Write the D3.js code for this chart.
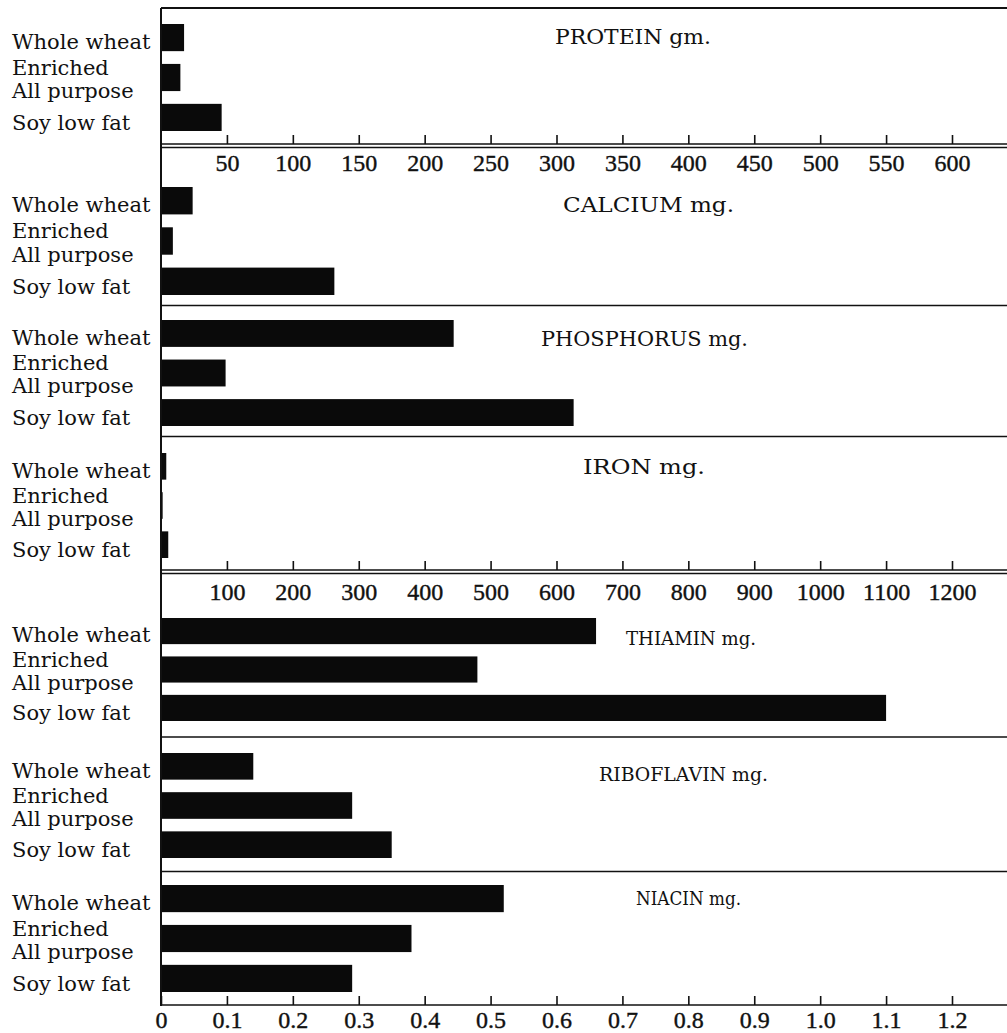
<!DOCTYPE html>
<html>
<head>
<meta charset="utf-8">
<script src="https://cdn.jsdelivr.net/npm/d3@7"></script>
<style>
  html, body { margin: 0; padding: 0; background: #fff; }
  svg { display: block; }
</style>
</head>
<body>
<script>
// ---------------- DATA ----------------
const categories = ["Whole wheat", "Enriched All purpose", "Soy low fat"];
const labelLines = [["Whole wheat"], ["Enriched", "All purpose"], ["Soy low fat"]];

const protein    = [17.5, 14.7, 46];     // gm.
const calcium    = [48, 18, 263];        // mg.
const phosphorus = [444, 98, 626];       // mg.
const iron       = [8, 2.5, 11];         // mg.
const thiamin    = [0.66, 0.48, 1.10];   // mg.
const riboflavin = [0.14, 0.29, 0.35];   // mg.
const niacin     = [0.52, 0.38, 0.29];   // mg.

const proteinTicks = [50,100,150,200,250,300,350,400,450,500,550,600];
const mineralTicks = [100,200,300,400,500,600,700,800,900,1000,1100,1200];
const vitaminTicks = [0,0.1,0.2,0.3,0.4,0.5,0.6,0.7,0.8,0.9,1.0,1.1,1.2];

// ---------------- LAYOUT ----------------
const W = 1007, H = 1033;
const X0 = 161, X1 = 952, XR = 1007;

const svg = d3.select("body").append("svg").attr("width", W).attr("height", H);

const xP = d3.scaleLinear().domain([0, 600]).range([X0, X1]);
const xM = d3.scaleLinear().domain([0, 1200]).range([X0, X1]);
const xV = d3.scaleLinear().domain([0, 1.2]).range([X0, X1]);

const panels = [
  {title: "PROTEIN gm.",    values: protein,    x: xP, top: 24,  bottom: 131, tx: 555, ty: 44,  tw: 156, fs: 20},
  {title: "CALCIUM mg.",    values: calcium,    x: xM, top: 187, bottom: 295, tx: 563, ty: 212, tw: 171, fs: 20},
  {title: "PHOSPHORUS mg.", values: phosphorus, x: xM, top: 320, bottom: 426, tx: 541, ty: 346, tw: 207, fs: 20},
  {title: "IRON mg.",       values: iron,       x: xM, top: 453, bottom: 558, tx: 583, ty: 474, tw: 122, fs: 20},
  {title: "THIAMIN mg.",    values: thiamin,    x: xV, top: 618, bottom: 721, tx: 626, ty: 645, tw: 130, fs: 19},
  {title: "RIBOFLAVIN mg.", values: riboflavin, x: xV, top: 753, bottom: 858, tx: 599, ty: 781, tw: 169, fs: 19},
  {title: "NIACIN mg.",     values: niacin,     x: xV, top: 885, bottom: 992, tx: 636, ty: 905, tw: 105, fs: 18}
];

const labelFont = "'DejaVu Serif', serif";
const tickFont = "'Liberation Serif', 'Times New Roman', serif";

panels.forEach(p => {
  const y = d3.scaleBand().domain(categories).range([p.top, p.bottom]).paddingInner(0.32).paddingOuter(0);
  const g = svg.append("g");
  g.selectAll("rect").data(categories).join("rect")
    .attr("x", p.x(0))
    .attr("y", d => y(d))
    .attr("width", (d, i) => p.x(p.values[i]) - p.x(0))
    .attr("height", y.bandwidth())
    .attr("fill", "#0a0a0a");

  // category labels
  const bw = y.bandwidth();
  const lab = [
    {t: labelLines[0][0], yy: y(categories[0]) + bw - 2},
    {t: labelLines[1][0], yy: y(categories[1]) + bw * 0.4},
    {t: labelLines[1][1], yy: y(categories[1]) + bw + 7},
    {t: labelLines[2][0], yy: y(categories[2]) + bw - 1}
  ];
  g.selectAll("text.cat").data(lab).join("text")
    .attr("class", "cat")
    .attr("x", 12).attr("y", d => d.yy)
    .attr("font-family", labelFont).attr("font-size", 21)
    .attr("fill", "#111")
    .text(d => d.t);

  g.append("text")
    .attr("x", p.tx).attr("y", p.ty)
    .attr("font-family", labelFont).attr("font-size", p.fs)
    .attr("textLength", p.tw).attr("lengthAdjust", "spacingAndGlyphs")
    .attr("fill", "#111")
    .text(p.title);
});

// ---------------- FRAME LINES ----------------
const line = (x1, y1, x2, y2, w) => svg.append("line")
  .attr("x1", x1).attr("y1", y1).attr("x2", x2).attr("y2", y2)
  .attr("stroke", "#111").attr("stroke-width", w);

line(X0, 8, XR, 8, 1.8);          // top frame
line(X0, 8, X0, 1006, 2);         // left axis
line(X0, 305.5, XR, 305.5, 1.6);  // calcium / phosphorus
line(X0, 436.5, XR, 436.5, 1.6);  // phosphorus / iron
line(X0, 737, XR, 737, 1.6);      // thiamin / riboflavin
line(X0, 871.5, XR, 871.5, 1.6);  // riboflavin / niacin

// ---------------- AXES ----------------
function drawAxis(scale, ticks, fmt, yLine, double, labelBaseline) {
  const ax = d3.axisBottom(scale)
    .tickValues(ticks)
    .tickFormat(fmt)
    .tickSizeInner(-9)
    .tickSizeOuter(0)
    .tickPadding(labelBaseline - yLine - 17);
  const g = svg.append("g").attr("transform", `translate(0,${yLine})`).call(ax);
  g.select(".domain").remove();
  g.selectAll(".tick line").attr("stroke", "#111").attr("stroke-width", 1.6);
  g.selectAll(".tick text")
    .attr("font-family", tickFont).attr("font-size", 24)
    .attr("fill", "#111").attr("stroke", "#111").attr("stroke-width", 0.4)
    .attr("dy", "0.71em");
  line(X0, yLine, XR, yLine, 1.6);
  if (double) line(X0, yLine + 3.5, XR, yLine + 3.5, 1.6);
}

drawAxis(xP, proteinTicks, d3.format("d"), 144, true, 171);
drawAxis(xM, mineralTicks, d3.format("d"), 570, true, 600);
drawAxis(xV, vitaminTicks, d => d === 0 ? "0" : d3.format(".1f")(d), 1005, false, 1028);
</script>
</body>
</html>
